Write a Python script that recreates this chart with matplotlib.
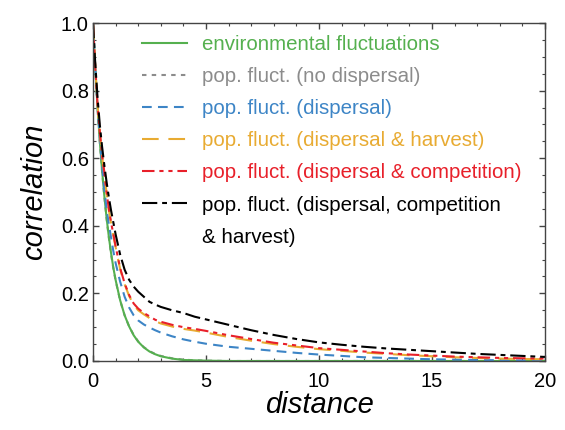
import numpy as np
import matplotlib
matplotlib.use('Agg')
import matplotlib.pyplot as plt
from matplotlib.lines import Line2D
from matplotlib.ticker import MultipleLocator

plt.rcParams['font.family'] = ['Liberation Sans', 'DejaVu Sans']
plt.rcParams['lines.scale_dashes'] = False

# distance grid shared by all curves
distance = [0, 0.1, 0.2, 0.3, 0.4, 0.5, 0.6, 0.7, 0.8, 0.9, 1.0, 1.2, 1.4, 1.6,
            1.8, 2.0, 2.25, 2.5, 2.75, 3.0, 3.5, 4, 4.5, 5, 6, 7, 8, 9, 10,
            11, 12, 13, 14, 15, 16, 17, 18, 19, 20]

env = [1.0, 0.867, 0.751, 0.651, 0.565, 0.49, 0.424, 0.368, 0.319, 0.276, 0.24,
       0.18, 0.135, 0.102, 0.076, 0.057, 0.04, 0.028, 0.02, 0.014, 0.007, 0.003,
       0.002, 0.001, 0, 0, 0, 0, 0, 0, 0, 0, 0, 0, 0, 0, 0, 0, 0]
no_disp = [1.0, 0.865, 0.748, 0.648, 0.562, 0.487, 0.421, 0.365, 0.316, 0.274,
           0.238, 0.179, 0.135, 0.102, 0.077, 0.058, 0.041, 0.029, 0.021, 0.015,
           0.008, 0.004, 0.002, 0.001, 0, 0, 0, 0, 0, 0, 0, 0, 0, 0, 0, 0, 0, 0, 0]
disp = [1.0, 0.87, 0.755, 0.66, 0.58, 0.51, 0.45, 0.405, 0.365, 0.325, 0.29,
        0.235, 0.19, 0.158, 0.135, 0.12, 0.108, 0.099, 0.091, 0.084, 0.073,
        0.064, 0.057, 0.051, 0.042, 0.036, 0.03, 0.024, 0.019, 0.015, 0.011,
        0.009, 0.007, 0.005, 0.004, 0.003, 0.002, 0.0015, 0.001]
disp_harv = [1.0, 0.87, 0.758, 0.678, 0.607, 0.555, 0.497, 0.447, 0.407, 0.372,
             0.337, 0.272, 0.227, 0.192, 0.166, 0.15, 0.138, 0.127, 0.118, 0.111,
             0.102, 0.095, 0.09, 0.084, 0.071, 0.06, 0.05, 0.042, 0.035, 0.03,
             0.025, 0.021, 0.017, 0.014, 0.011, 0.009, 0.007, 0.006, 0.005]
disp_comp = [1.0, 0.87, 0.76, 0.68, 0.61, 0.56, 0.5, 0.45, 0.41, 0.375, 0.34,
             0.275, 0.23, 0.195, 0.17, 0.155, 0.142, 0.132, 0.122, 0.116, 0.107,
             0.1, 0.095, 0.089, 0.076, 0.065, 0.054, 0.046, 0.038, 0.033, 0.028,
             0.023, 0.019, 0.016, 0.013, 0.011, 0.009, 0.008, 0.007]
disp_comp_harv = [1.0, 0.88, 0.78, 0.70, 0.635, 0.58, 0.53, 0.485, 0.445, 0.41,
                  0.375, 0.315, 0.27, 0.24, 0.22, 0.205, 0.19, 0.175, 0.167, 0.16,
                  0.15, 0.142, 0.131, 0.123, 0.107, 0.091, 0.077, 0.065, 0.055,
                  0.048, 0.042, 0.037, 0.033, 0.029, 0.025, 0.021, 0.018, 0.015,
                  0.012]

labels = ['environmental fluctuations', 'pop. fluct. (no dispersal)',
          'pop. fluct. (dispersal)', 'pop. fluct. (dispersal & harvest)',
          'pop. fluct. (dispersal & competition)',
          'pop. fluct. (dispersal, competition']
colors = ['#55b04f', '#8c8c8c', '#3d85c6', '#e8ab32', '#e8202a', 'black']
dashes = [None, (3.2, 3.8), (7, 4.5), (12, 7), (9, 3.5, 3, 3.5, 3, 3.5),
          (11, 3.5, 3.5, 3.5)]

fig = plt.figure(figsize=(5.65, 4.30), dpi=100)
ax = fig.add_axes([0.1646, 0.1605, 0.8, 0.786])

series = [env, no_disp, disp, disp_harv, disp_comp, disp_comp_harv]
order = [1, 0, 2, 3, 4, 5]
lines = [None] * 6
for i in order:
    if dashes[i] is None:
        ln, = ax.plot(distance, series[i], color=colors[i], lw=1.5)
    else:
        ln, = ax.plot(distance, series[i], color=colors[i], lw=1.5,
                      dashes=dashes[i])
    lines[i] = ln

handles = lines + [Line2D([], [], color='none')]
leg = ax.legend(handles, labels + ['& harvest)'], loc='upper left',
                bbox_to_anchor=(0.108, 0.965), frameon=False, fontsize=14.8,
                handlelength=2.2, handletextpad=0.75, labelspacing=0.64,
                borderpad=0, borderaxespad=0)
for t, c in zip(leg.get_texts(), colors + ['black']):
    t.set_color(c)

ax.set_xlim(0, 20)
ax.set_ylim(0, 1)
ax.xaxis.set_major_locator(MultipleLocator(5))
ax.xaxis.set_minor_locator(MultipleLocator(1))
ax.yaxis.set_major_locator(MultipleLocator(0.2))
ax.yaxis.set_minor_locator(MultipleLocator(0.05))
ax.yaxis.set_major_formatter(plt.FormatStrFormatter('%.1f'))
ax.tick_params(which='both', direction='in', top=True, right=True,
               color='#444444', labelsize=14.5)
ax.tick_params(axis='y', pad=3)
ax.tick_params(axis='x', pad=8)
ax.tick_params(which='major', length=4.5, width=1)
ax.tick_params(which='minor', length=2.5, width=0.8)
for sp in ax.spines.values():
    sp.set_color('#444444')
    sp.set_linewidth(1.0)

ax.set_xlabel('distance', fontsize=21, style='italic', labelpad=0)
ax.set_ylabel('correlation', fontsize=21, style='italic', labelpad=9.5)

fig.savefig('out.png', dpi=100)
